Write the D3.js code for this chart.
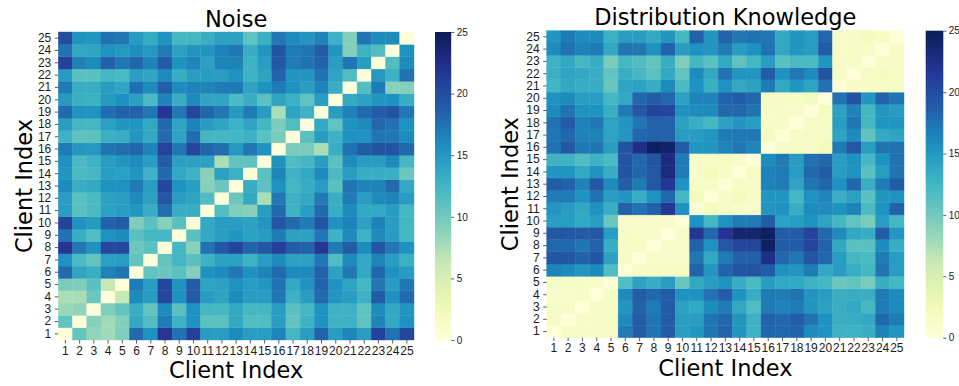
<!DOCTYPE html>
<html>
<head>
<meta charset="utf-8">
<script src="https://cdn.jsdelivr.net/npm/d3@7"></script>
<style>
  body { margin: 0; background: #fff; }
  svg { display: block; font-family: "DejaVu Sans", sans-serif; }
</style>
</head>
<body>
<svg id="chart" width="959" height="386"></svg>
<script>
// client ids, used for both axes
const clients = ["1","2","3","4","5","6","7","8","9","10","11","12","13",
  "14","15","16","17","18","19","20","21","22","23","24","25"];

// rows are client 1..25 (bottom to top), columns client 1..25
const noise = [
  [0,10.8,8.6,7.9,9.4,18,15.5,21.8,17.5,21,14.6,14.6,16,14.6,14.6,16.4,12.3,14.6,18.5,14.6,16.4,14.6,21,17.5,20.5],
  [10.8,0,9,7.9,9.2,13.7,11.7,17,12.8,15.5,11.2,11.2,13.7,11.7,11.7,14.6,10.8,12.8,15.5,12.8,12.8,11,16.4,13.7,15.5],
  [8.3,8.6,0,9.4,10.8,13.3,10.8,16,11.2,15.5,12.3,12.3,13.7,12.3,12.3,14.6,11.2,12.3,15.5,12.8,12.8,11,16,13.7,15.2],
  [7.5,7.5,10.3,0,6.3,16,14.6,20.5,15.5,19,14.6,14.1,16,14.6,14.6,17.2,12.8,14.6,18,15.2,14.6,12.8,19,15.5,18],
  [9.6,9.4,11.2,6.3,0,17,14.6,20.5,15.5,19,14.1,14.3,15.5,14.6,15.2,17.5,13.7,15.5,18.5,15.5,14.1,12.3,17.2,14.6,17.2],
  [18,13.9,13.3,16.5,17.3,0,10.8,10.3,11.2,9.2,15.5,16,17.2,15.5,16.4,18,16,16,18.5,14.3,17.2,13.7,18.2,15.5,14.6],
  [15.5,12,10.8,14.4,14.6,10.8,0,10.8,12.3,11.2,12.8,14.3,14.3,12.8,14.6,16,14.3,14.3,17.2,11.7,16,13.7,16.4,14.6,13],
  [21.8,17.2,15.5,20.5,20.5,10.3,11.2,0,12.3,9,17.5,19.3,20.7,18.5,19.3,21,19,18.5,21.8,17,19,16,19.3,17.2,15.5],
  [17.5,13.3,11.7,15.5,16,11.2,12.3,12.3,0,11.2,13.7,14.6,15.2,14.3,14.6,17,14.3,14.3,17.2,12.8,16,12.8,16,14.6,12.3],
  [20.7,15.5,14.9,18.5,19,9.4,11.2,9,11.2,0,13.7,14.6,14.6,14.3,15.2,19.3,18,17,19.5,15.5,16.5,14.3,16.5,14.6,12.3],
  [14.6,11.2,12,14.3,14.6,15.2,13.3,17.8,13.3,13.3,0,11.7,9.4,9,14.6,18,12.8,14.6,18,13.3,16,13.7,13.7,14.6,12.3],
  [14.6,11.2,12,14.3,14.6,16,14.3,19.3,14.6,14.1,11.7,0,10.3,13.7,7.5,17.2,12.8,13.7,17,13.3,17,14.6,16,16.4,14.6],
  [16,13.3,13.7,15.5,15.5,17,14.6,20.5,15.5,14.6,9,10.3,0,13.3,11,15.5,12.3,13.3,14.6,11.2,17.3,16.4,16.5,18,13.7],
  [15.2,12,12.3,14.6,14.4,15.2,12.8,18,13.7,12.8,9,14.4,13,0,11.2,16.4,12.8,13.7,16,12,14.6,13.3,13.3,13,10.3],
  [15.5,12,12.8,14.6,15.2,16,14.6,19,14.4,14.4,14.4,7.5,10.9,11,0,15.5,11.7,12.3,14.6,11.2,16,14.6,14.6,16,12.3],
  [17,15,15,17.3,17.8,18.3,16.5,20.7,17.2,20.5,18.3,17.8,15,17.2,15.5,0,9.6,9.6,7.5,13.3,17.5,19,19.5,19.5,18],
  [12.8,11,11.2,13,13.3,15.2,13.7,18,14.1,17.8,12.3,12.3,12.5,12.8,11.2,9.6,0,11.2,14.6,12.8,15.5,15.5,17.3,17.2,16],
  [14.6,12.3,12.3,14.4,15.2,15.2,13.7,18,14.1,16.5,14.6,14,12.8,14.1,12.3,9.6,11.7,0,13.7,10.8,15.5,16,18.2,17.5,15.5],
  [18,15.5,15.5,17.8,18.5,18.5,17.3,21.8,17.2,20.5,18.3,17.2,14.9,17,14.6,7.5,14.1,12.8,0,14.6,16.5,18,19,19.5,17.2],
  [15,13,13,14.9,15.6,14.4,12,16.5,13.2,16,14,14,12,13.3,11.2,14.1,13,11,14.6,0,13.7,14.3,15.2,15.5,13.3],
  [17,13.3,13.3,14.6,14,17.6,16,18.8,16,16.5,16.4,17,17.1,14.1,15.5,17,15.5,14.6,16.4,13.3,0,11.7,17,9,9.2],
  [14.8,11.2,11.2,12.3,12.1,14.4,13.9,16,13.2,14.6,14.6,14.6,15.5,12.8,14.1,18.4,15.2,15.2,17.5,14.1,11.7,0,14.9,12.8,17.5],
  [21,16.5,16,18.5,17.2,18.2,16.5,19,15.5,16.3,14.4,16.5,16.5,12.8,14.6,19.3,17,17.5,18.5,14.6,17.3,14.6,0,11.7,16],
  [17.5,13.8,14.1,15.5,14.9,15.8,15,17,14.4,15.2,15.2,16.5,17.2,13.3,15.2,19.5,17,17.3,19,15.2,9.2,12.8,11.7,0,15.5],
  [20,15.5,15.3,17.5,17.2,14.8,13.5,15.5,12.3,12.3,13.2,14.3,14.3,11,13,17.2,16,15.2,16.5,12.8,9.2,17.3,16,16,0]
];

const distKnowledge = [
  [0.2,1.5,1.5,1.5,1.8,17,19,17.3,19,14.6,15.2,17.3,18.5,15.2,12.8,18.2,18.2,18.5,16,15.5,12.8,12.8,13.3,16.5,15.2],
  [1.5,0.2,1.5,1.5,1.8,16,19,17.3,19,14.6,14.6,17.3,18.2,15.2,12.8,18.5,18.2,19,17.5,15.5,13.3,13.3,13.7,18.2,17],
  [1.5,1.5,0.2,1.5,1.5,15.2,18.5,17,19,14.3,13.7,16,17,13.7,11.7,17,16.5,17,15.2,14.3,13.3,13.7,12.3,17,16],
  [1.2,1.2,1.5,0.2,1.5,16,19,18.2,19,15.5,15.5,17.5,19,15.5,13.3,17,17,17.5,15.2,14.6,13.3,13.3,13.3,17,16],
  [1.5,1.5,1.5,1.2,0.2,11.7,14.3,13.3,14.6,10.4,13.7,14.6,15.5,13.3,12,14.6,13.7,13.7,12.8,12.3,10.3,10.8,9.6,13.3,12.3],
  [16.5,16,15.2,16,11.7,0.2,1.5,1.5,1.5,1.5,18.5,15.2,18.5,19.5,19.5,19,15.5,15.2,17,13.7,14.6,13.3,12.3,17.3,14.6],
  [19.3,19.3,18.5,19.3,14.3,1.5,0.2,1.2,1.2,1.2,17.3,13.7,17,18.5,18.5,22.5,18.2,17.2,19.3,18.2,14.6,12.3,12,17,14.6],
  [18.2,18.2,17.3,18.5,13.3,1.5,1.5,0.2,1.2,1.2,18.5,15.5,19.3,20.5,20.5,24.5,19,19,20.7,18.5,13.7,11.2,11.2,16,13.3],
  [19.3,19.3,19,19.3,14.6,1.5,1.5,1.2,0.2,1.2,21.8,18.2,22,23.8,23.8,24.5,19,19,20.7,18.2,16,13.7,13.3,19,15.2],
  [14.6,14.6,13.7,14.6,10.3,1.2,1.2,1.2,1.2,0.2,15.5,12.3,15.5,17,17,19,14.3,14.6,15.5,14.1,12.3,10.8,9.6,14.6,12.3],
  [15.2,14.6,13.7,15.5,13.3,18.5,17.5,18.5,21.8,15.5,0.2,2,1.5,1.2,1.2,15.2,15.5,13.3,16,16,15.5,16.5,12,15.5,18.5],
  [17,17,15.5,17.5,14.6,15.2,13.3,15.5,18.2,12.3,2.3,0.2,1.5,2.3,1.5,15.2,15.2,12.3,15.5,16.4,13.3,14.3,11.2,15.2,15.5],
  [19,18.5,16.5,19.3,16,19,17,19.3,21.8,15.5,1.5,1.5,0.3,1.5,1.5,16.5,17,14,17.3,18.3,15.5,18.2,13.3,17,19],
  [15.2,15.2,13.7,15.5,13.3,19.5,18.2,19.3,23,17,1.2,2.3,1.5,0.2,1.5,16.5,17,14.6,18.2,19,14.6,15.5,11.2,14.6,17.5],
  [12.8,12.8,11.7,12.8,12,19.5,18.2,19.5,23,17,1.2,1.8,1.8,1.2,0.2,16,17,14.6,17.5,18.2,14.6,15.5,12.3,15.5,17.5],
  [17.5,19.3,17.2,17.3,14.6,19.5,22.5,24.5,24,19,15.2,15.2,16.4,17.2,16.4,0.2,1.5,1.8,1.8,2.3,17,19.3,14.6,17.3,17.5],
  [17.2,18.2,16.5,16.5,14.1,15.2,18.2,18.5,18.5,14.6,14.6,15.2,17,17.2,17.2,1.8,0.2,1.5,1.8,1.8,14.1,16,10.8,13.7,14.1],
  [17.5,19,16.5,17.2,14.1,15.2,17.3,18.5,18.5,14.3,13.3,12.3,14.3,15.2,14.6,1.5,1.5,0.2,1.5,1.8,14.6,17.2,12.3,15.2,15.2],
  [16,17.5,15.5,15.5,13.3,17,19.3,20.7,20.5,15.5,16,16,18.2,18.2,17.5,1.5,1.5,1.2,0.2,2,14.3,16.5,12.3,15.2,14.6],
  [15.5,16,14.6,14.6,12.3,13.7,18.2,19,18.2,14.3,16.4,16.4,18.4,19,18.2,1.8,1.5,1.5,2,0.2,17.5,19.5,15.2,18.5,17.3],
  [12.5,13.7,13.3,13.3,10.4,14.1,14.3,13.3,16,12,15.5,13,15.5,13.7,14.3,17,13.7,15.2,14.1,17.5,0.2,1.5,1.5,1.5,1.5],
  [13,14.1,13.7,13.3,10.8,13.3,12.3,11.2,13.7,10.8,16,13.7,17.5,15.2,15.2,19,15.5,17.2,16,19.5,1.5,0.3,1.8,2,1.8],
  [12.8,13.7,12.3,13.3,9.6,12.3,11.7,10.8,13.3,9.4,12.3,11.2,13.7,11,12.3,14.6,11.2,12,12,15.2,1.5,1.5,0.3,1.5,1.8],
  [16,17.5,16.5,17,13.7,17.3,17.2,15.5,18.5,14.6,15.5,15.2,17,14.6,15.5,17.5,13.7,15.2,14.6,19,1.2,1.8,1.5,0.2,1.5],
  [15.2,17,16,16,13,14.6,14.6,13.7,15.2,12.3,18.5,15.2,18.5,17.2,17.5,17.2,13.7,15.2,14.6,18.2,1.2,1.5,2,1.5,0.3]
];

const titles = ["Noise", "Distribution Knowledge"];
const axisLabel = "Client Index";
const cbarTicks = [0, 5, 10, 15, 20, 25];
const vmax = 25;

// matplotlib's YlGnBu is the 9-class brewer ramp, linearly interpolated
const ylgnbu = d3.schemeYlGnBu[9];
const color = d3.scaleLinear()
  .domain(ylgnbu.map((c, i) => i * vmax / (ylgnbu.length - 1)))
  .range(ylgnbu)
  .interpolate(d3.interpolateRgb)
  .clamp(true);

const svg = d3.select('#chart');

const panels = [
  { data: noise, x0: 58.3, x1: 414, y0: 32, y1: 340, cb0: 435, cb1: 451.2,
    titleY: 27, xlabY: 378, ylabX: 32 },
  { data: distKnowledge, x0: 546.7, x1: 904, y0: 30.7, y1: 337.7, cb0: 925.7, cb1: 943.3,
    titleY: 25, xlabY: 376, ylabX: 518 }
];

panels.forEach((p, k) => {
  const g = svg.append('g');
  const x = d3.scaleBand().domain(clients).range([p.x0, p.x1]);
  const y = d3.scaleBand().domain(clients.slice().reverse()).range([p.y0, p.y1]);

  const cells = [];
  p.data.forEach((row, r) => row.forEach((v, c) => cells.push({ r: clients[r], c: clients[c], v: v })));

  g.selectAll('rect.cell')
    .data(cells)
    .enter()
    .append('rect')
    .attr('class', 'cell')
    .attr('x', d => x(d.c))
    .attr('y', d => y(d.r))
    .attr('width', x.bandwidth())
    .attr('height', y.bandwidth())
    .attr('fill', d => color(d.v))
    .attr('stroke', d => color(d.v))
    .attr('stroke-width', 0.4);

  // axes, seaborn style: ticks but no spine
  const xAxis = g.append('g')
    .attr('transform', 'translate(0,' + p.y1 + ')')
    .call(d3.axisBottom(x).tickSize(3.5).tickPadding(2.5));
  const yAxis = g.append('g')
    .attr('transform', 'translate(' + p.x0 + ',0)')
    .call(d3.axisLeft(y).tickSize(3.5).tickPadding(3.5));
  [xAxis, yAxis].forEach(a => {
    a.select('.domain').remove();
    a.selectAll('text').style('font-size', '12px').attr('fill', '#1a1a1a');
    a.selectAll('line').attr('stroke', '#333').attr('stroke-width', 0.8);
  });

  // colorbar
  const gid = 'cbgrad' + k;
  const grad = svg.append('defs').append('linearGradient')
    .attr('id', gid).attr('x1', 0).attr('y1', 1).attr('x2', 0).attr('y2', 0);
  grad.selectAll('stop')
    .data(d3.range(0, 1.0001, 0.05))
    .enter()
    .append('stop')
    .attr('offset', t => t)
    .attr('stop-color', t => color(t * vmax));

  const cy = d3.scaleLinear().domain([0, vmax]).range([p.y1, p.y0]);
  g.append('rect')
    .attr('x', p.cb0).attr('y', p.y0)
    .attr('width', p.cb1 - p.cb0).attr('height', p.y1 - p.y0)
    .attr('fill', 'url(#' + gid + ')');
  const cAxis = g.append('g')
    .attr('transform', 'translate(' + p.cb1 + ',0)')
    .call(d3.axisRight(cy).tickValues(cbarTicks).tickSize(3).tickPadding(2.5));
  cAxis.select('.domain').remove();
  cAxis.selectAll('text').style('font-size', '10px').attr('fill', '#1a1a1a');
  cAxis.selectAll('line').attr('stroke', '#333').attr('stroke-width', 0.8);

  // labels
  const cx = (p.x0 + p.x1) / 2;
  const cyMid = (p.y0 + p.y1) / 2;
  g.append('text')
    .attr('x', cx).attr('y', p.titleY)
    .attr('text-anchor', 'middle')
    .style('font-size', '22.5px')
    .text(titles[k]);
  g.append('text')
    .attr('x', cx).attr('y', p.xlabY)
    .attr('text-anchor', 'middle')
    .style('font-size', '22.5px')
    .text(axisLabel);
  g.append('text')
    .attr('transform', 'translate(' + p.ylabX + ',' + cyMid + ') rotate(-90)')
    .attr('text-anchor', 'middle')
    .style('font-size', '22.5px')
    .text(axisLabel);
});
</script>
</body>
</html>
